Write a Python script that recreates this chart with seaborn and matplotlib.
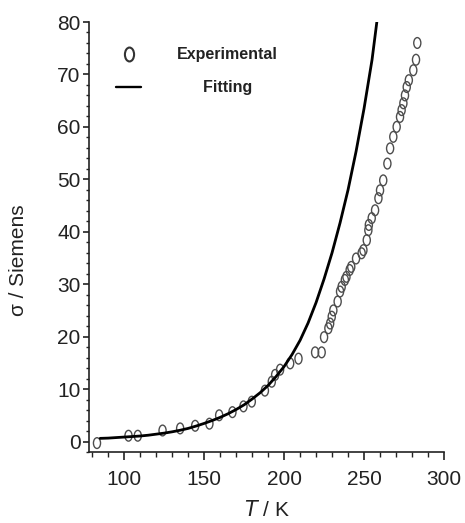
import numpy as np
import pandas as pd
import matplotlib
matplotlib.use("Agg")
import matplotlib.pyplot as plt
from matplotlib.path import Path
from matplotlib.transforms import Affine2D
from matplotlib.lines import Line2D
from matplotlib.ticker import MultipleLocator
import seaborn as sns

# Experimental data (T in K, sigma in Siemens)
exp_T = [83, 102.7, 108.5, 124, 135, 144.4, 153.3, 159.4, 167.7, 174.6, 179.8,
         188, 192.3, 194.4, 197.5, 203.8, 209, 219.4, 223.5, 225, 227.7, 228.8,
         229.8, 230.8, 233.5, 235, 236, 238, 239, 241, 242, 245, 248.5, 249.6,
         251.7, 252.7, 253, 254.8, 256.9, 259, 260, 262, 264.6, 266.3, 268.3,
         270.4, 272.5, 273.5, 274.6, 275.6, 276.7, 278, 280.8, 282.5, 283.3]
exp_sigma = [-0.3, 1.1, 1.1, 2.1, 2.5, 3.0, 3.4, 5.0, 5.6, 6.7, 7.6,
             9.7, 11.4, 12.7, 13.7, 14.9, 15.8, 17.0, 17.0, 19.9, 21.6, 22.5,
             23.8, 25.0, 26.7, 28.6, 29.5, 30.8, 31.4, 32.7, 33.3, 34.9, 35.9, 36.5,
             38.4, 40.3, 41.3, 42.6, 44.1, 46.4, 47.9, 49.8, 53.0, 55.9, 58.1,
             60.0, 61.9, 63.2, 64.5, 66.0, 67.6, 68.9, 70.8, 72.8, 76.0]

# Fitting curve
fit_T = [85, 90, 95, 100, 105, 110, 115, 120, 125, 130, 135, 140, 145, 150, 155,
         160, 165, 170, 175, 180, 185, 190, 195, 200, 205, 210, 215, 220, 225,
         230, 235, 240, 245, 250, 255, 258]
fit_sigma = [0.6, 0.65, 0.75, 0.85, 0.95, 1.05, 1.2, 1.4, 1.6, 1.85, 2.15, 2.5,
             2.95, 3.45, 4.0, 4.6, 5.3, 6.1, 7.0, 8.1, 9.3, 10.7, 12.4, 14.3,
             16.6, 19.3, 22.6, 26.5, 31.0, 36.0, 41.7, 48.0, 55.3, 63.5, 72.8, 80.0]

x_ticks = [100, 150, 200, 250, 300]
y_ticks = [0, 10, 20, 30, 40, 50, 60, 70, 80]

sns.set_style("ticks")
plt.rcParams['font.family'] = ['Liberation Sans', 'DejaVu Sans']

fig = plt.figure(figsize=(4.65, 5.23), dpi=100)
ax = fig.add_axes([89/465, 1 - 452/523, 355/465, 430/523])

exp_df = pd.DataFrame({"T": exp_T, "sigma": exp_sigma})
fit_df = pd.DataFrame({"T": fit_T, "sigma": fit_sigma})

ellipse = Path.unit_circle().transformed(Affine2D().scale(0.66, 1.0))

sns.scatterplot(data=exp_df, x="T", y="sigma", ax=ax, marker=ellipse, s=60,
                facecolors="none", edgecolors="#4d4d4d", linewidths=1.0,
                zorder=2)
sns.lineplot(data=fit_df, x="T", y="sigma", ax=ax, color="black", lw=2.0,
             zorder=3, sort=False, estimator=None)

ax.set_xlim(78, 300)
ax.set_ylim(-2, 80)
ax.set_xticks(x_ticks)
ax.set_yticks(y_ticks)
ax.xaxis.set_minor_locator(MultipleLocator(10))
ax.yaxis.set_minor_locator(MultipleLocator(2))

for s in ["top", "right"]:
    ax.spines[s].set_visible(False)
for s in ["left", "bottom"]:
    ax.spines[s].set_linewidth(1.2)
    ax.spines[s].set_color("#222222")

ax.tick_params(axis="x", which="major", length=6, width=1.2, pad=7,
               labelsize=15, colors="#222222")
ax.tick_params(axis="x", which="minor", length=3.5, width=1.0, colors="#222222")
ax.tick_params(axis="y", which="major", length=4, width=1.2, pad=2,
               labelsize=15, colors="#222222")
ax.tick_params(axis="y", which="minor", length=2, width=1.0, colors="#222222")

ax.set_xlabel(r"$\it{T}$ / K", fontsize=15, color="#222222", labelpad=8)
ax.set_ylabel("σ / Siemens", fontsize=15, color="#222222")
ax.yaxis.set_label_coords(-0.172, 0.447)

handles = [Line2D([], [], ls="none", marker=ellipse, markersize=10,
                  markerfacecolor="none", markeredgecolor="#333333",
                  markeredgewidth=1.5),
           Line2D([], [], color="black", lw=1.7)]
leg = ax.legend(handles, ["Experimental", "      Fitting"],
                loc="upper left", bbox_to_anchor=(0.035, 0.975),
                frameon=False, handlelength=1.6, handletextpad=2.2,
                labelspacing=1.15, prop={"weight": "bold", "size": 11.5})
for t in leg.get_texts():
    t.set_color("#222222")

fig.savefig("out.png", dpi=100)
